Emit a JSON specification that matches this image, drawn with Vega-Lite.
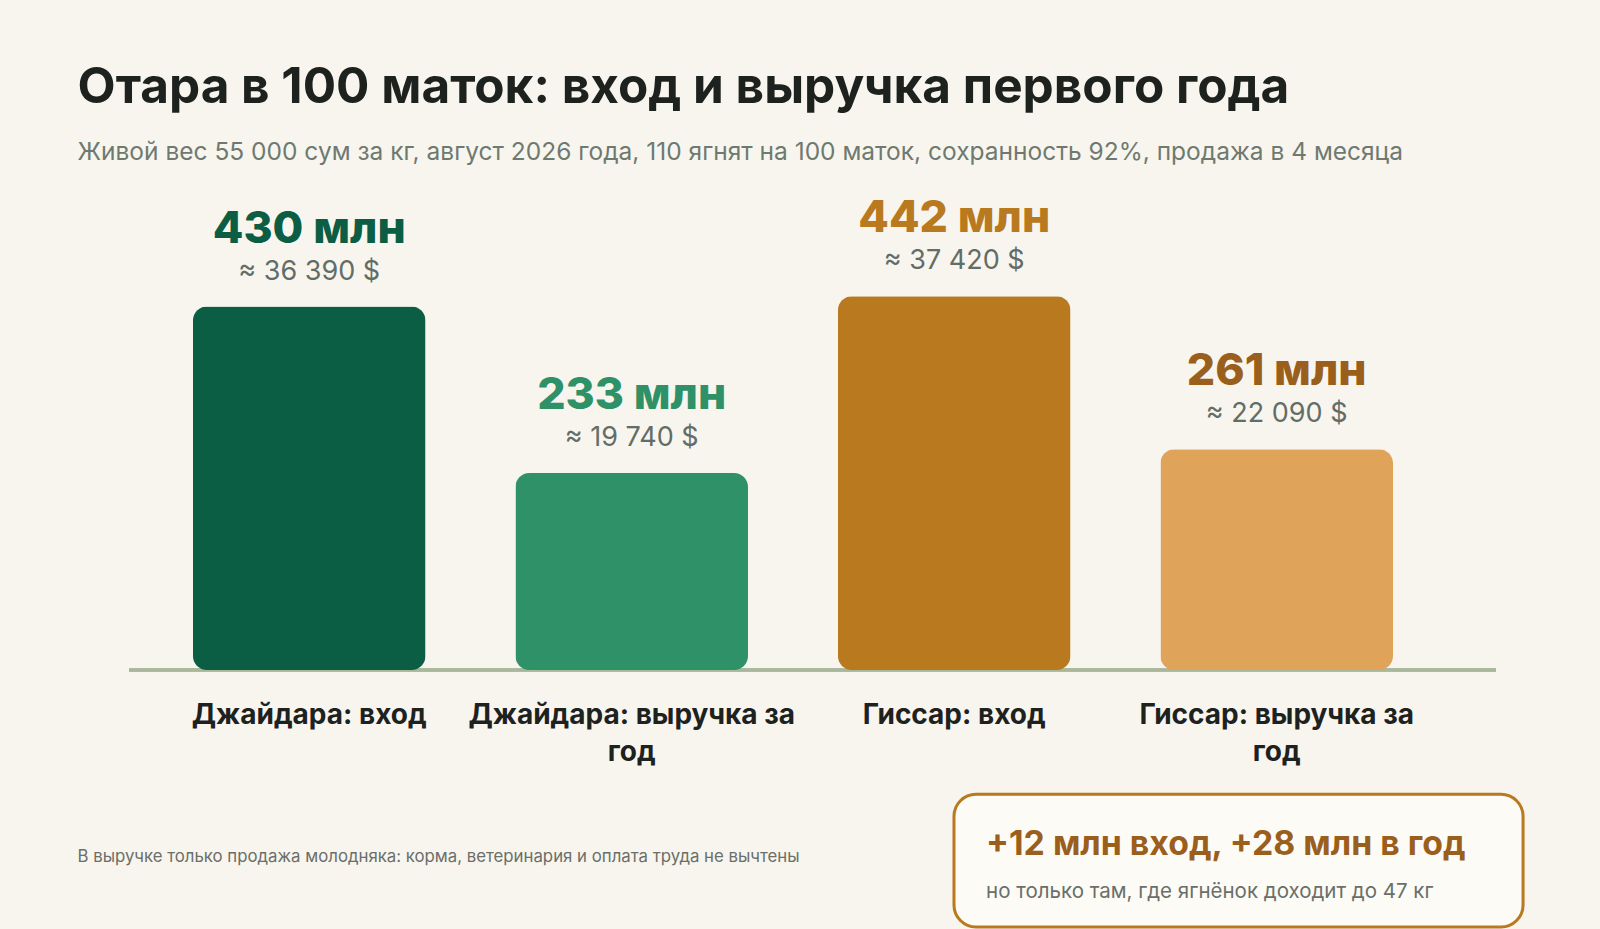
{
  "$schema": "https://vega.github.io/schema/vega-lite/v6.json",
  "width": 1367,
  "height": 470,
  "autosize": "none",
  "padding": {"left": 129, "top": 200, "right": 104, "bottom": 259},
  "background": "#f8f5ee",
  "config": {
    "font": "Inter",
    "view": {"stroke": null}
  },
  "title": {
    "text": "Отара в 100 маток: вход и выручка первого года",
    "subtitle": "Живой вес 55 000 сум за кг, август 2026 года, 110 ягнят на 100 маток, сохранность 92%, продажа в 4 месяца",
    "anchor": "start",
    "frame": "group",
    "dx": -51.5,
    "offset": 31,
    "font": "Inter",
    "fontSize": 49.5,
    "fontWeight": 700,
    "color": "#1e221f",
    "subtitleFont": "Inter",
    "subtitleFontSize": 24.5,
    "subtitleColor": "#6e7a70",
    "subtitlePadding": 27
  },
  "datasets": {
    "bars": [
      {"cat": "Джайдара: вход", "value": 430, "label": "430 млн", "usd": "≈ 36 390 $"},
      {"cat": "Джайдара: выручка за год", "value": 233, "label": "233 млн", "usd": "≈ 19 740 $"},
      {"cat": "Гиссар: вход", "value": 442, "label": "442 млн", "usd": "≈ 37 420 $"},
      {"cat": "Гиссар: выручка за год", "value": 261, "label": "261 млн", "usd": "≈ 22 090 $"}
    ]
  },
  "layer": [
    {
      "data": {"name": "bars"},
      "layer": [
        {
          "mark": {"type": "rule", "color": "#a9b79b", "strokeWidth": 3},
          "encoding": {
            "y": {"datum": 0, "type": "quantitative", "scale": {"domain": [0, 556], "nice": false, "zero": true}, "axis": null}
          }
        },
        {
          "mark": {"type": "bar", "cornerRadius": 14},
          "encoding": {
            "x": {
              "field": "cat",
              "type": "nominal",
              "sort": null,
              "scale": {"paddingInner": 0.2788, "paddingOuter": 0.2588, "align": 0.383},
              "axis": {
                "title": null,
                "domain": false,
                "ticks": false,
                "labelAngle": 0,
                "labelFont": "Inter",
                "labelFontSize": 28,
                "labelFontWeight": 700,
                "labelColor": "#1e221f",
                "labelPadding": 31.5,
                "labelLineHeight": 37,
                "labelBaseline": "top",
                "labelLimit": 450,
                "labelExpr": "split(replace(datum.label, ' за год', ' за|год'), '|')"
              }
            },
            "y": {"field": "value", "type": "quantitative", "scale": {"domain": [0, 556], "nice": false}, "axis": null},
            "color": {
              "field": "cat",
              "type": "nominal",
              "scale": {
                "domain": ["Джайдара: вход", "Джайдара: выручка за год", "Гиссар: вход", "Гиссар: выручка за год"],
                "range": ["#0b5e43", "#2f9168", "#b8791f", "#e0a35a"]
              },
              "legend": null
            }
          }
        },
        {
          "mark": {"type": "text", "fontSize": 44.5, "fontWeight": 800, "baseline": "middle", "dy": -77},
          "encoding": {
            "x": {"field": "cat", "type": "nominal", "sort": null},
            "y": {"field": "value", "type": "quantitative"},
            "text": {"field": "label"},
            "color": {
              "field": "cat",
              "type": "nominal",
              "scale": {
                "domain": ["Джайдара: вход", "Джайдара: выручка за год", "Гиссар: вход", "Гиссар: выручка за год"],
                "range": ["#0b5e43", "#2f9168", "#b8791f", "#9a5f1c"]
              },
              "legend": null
            }
          }
        },
        {
          "mark": {"type": "text", "fontSize": 27, "color": "#626d68", "baseline": "middle", "dy": -35},
          "encoding": {
            "x": {"field": "cat", "type": "nominal", "sort": null},
            "y": {"field": "value", "type": "quantitative"},
            "text": {"field": "usd"}
          }
        }
      ],
      "resolve": {"scale": {"color": "independent"}}
    },
    {
      "layer": [
        {
          "data": {"values": [{"note": "В выручке только продажа молодняка: корма, ветеринария и оплата труда не вычтены"}]},
          "mark": {"type": "text", "fontSize": 16.8, "color": "#6a6f69", "align": "left", "baseline": "middle"},
          "encoding": {
            "x": {"datum": -0.0377, "type": "quantitative", "scale": {"domain": [0, 1], "nice": false}, "axis": null},
            "y": {"datum": -221.5, "type": "quantitative"},
            "text": {"field": "note"}
          }
        },
        {
          "data": {"values": [{"note": "callout"}]},
          "mark": {"type": "rect", "cornerRadius": 22, "fill": "#fdfbf6", "stroke": "#b8791f", "strokeWidth": 3},
          "encoding": {
            "x": {"datum": 0.6035, "type": "quantitative"},
            "x2": {"datum": 1.0198},
            "y": {"datum": -147, "type": "quantitative"},
            "y2": {"datum": -304}
          }
        },
        {
          "data": {"values": [{"note": "+12 млн вход, +28 млн в год"}]},
          "mark": {"type": "text", "fontSize": 33.8, "fontWeight": 700, "color": "#9a5f1c", "align": "left", "baseline": "middle"},
          "encoding": {
            "x": {"datum": 0.627, "type": "quantitative"},
            "y": {"datum": -207.5, "type": "quantitative"},
            "text": {"field": "note"}
          }
        },
        {
          "data": {"values": [{"note": "но только там, где ягнёнок доходит до 47 кг"}]},
          "mark": {"type": "text", "fontSize": 20.5, "color": "#6a6f69", "align": "left", "baseline": "middle"},
          "encoding": {
            "x": {"datum": 0.627, "type": "quantitative"},
            "y": {"datum": -262.5, "type": "quantitative"},
            "text": {"field": "note"}
          }
        }
      ]
    }
  ],
  "resolve": {"scale": {"x": "independent"}}
}
